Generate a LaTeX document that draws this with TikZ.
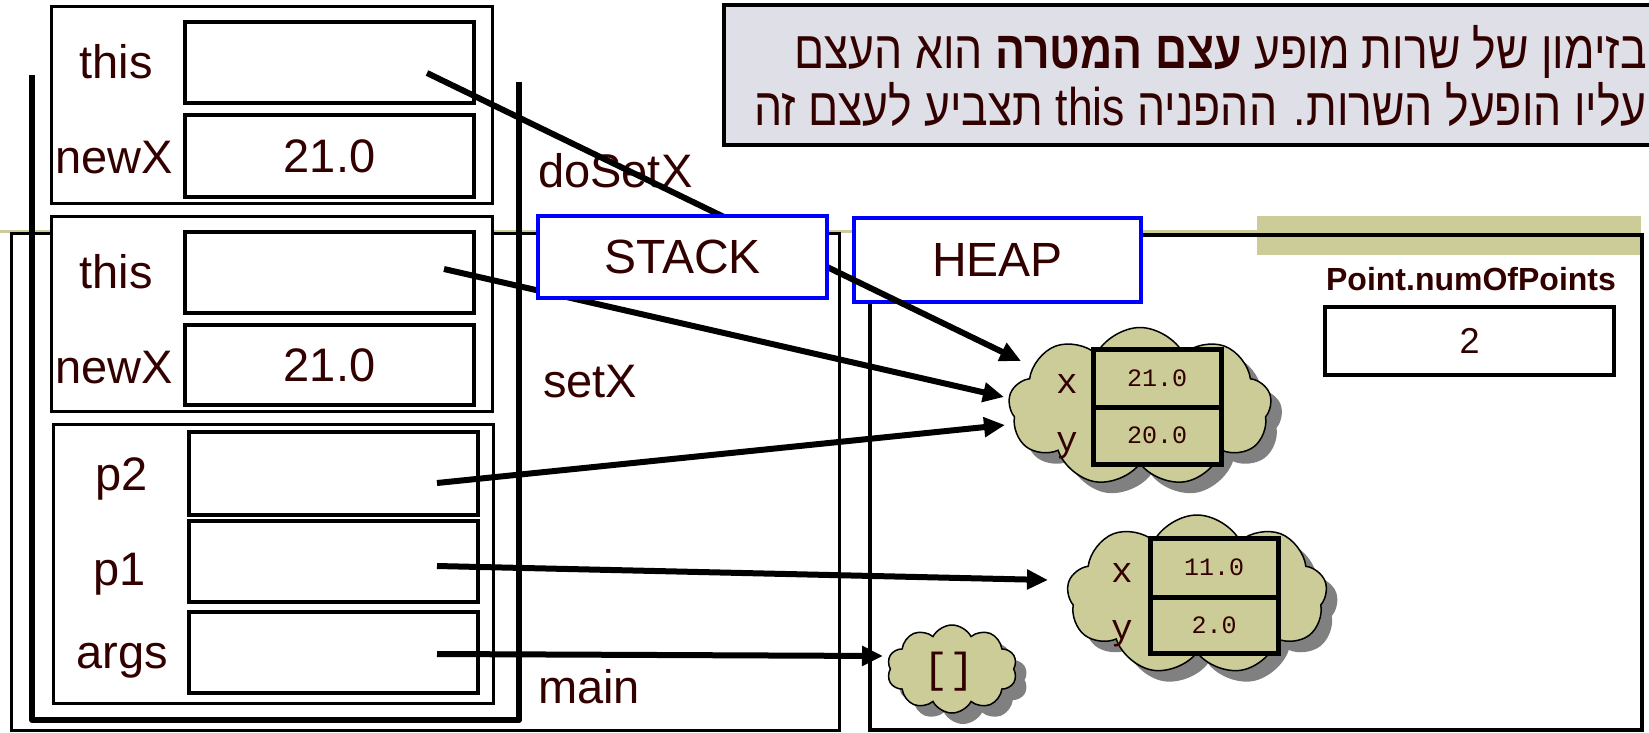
\documentclass[tikz,border=0pt]{standalone}
\usepackage{fontspec}
\setmainfont{Liberation Sans}
\newfontfamily\hebfont[Script=Hebrew,FakeStretch=0.84]{Liberation Sans}
\newfontfamily\cour{Liberation Mono}
\TeXXeTstate=1
\usetikzlibrary{shapes.symbols,shadows,arrows.meta}
\definecolor{txt}{RGB}{51,0,0}
\definecolor{khaki}{RGB}{204,204,153}
\definecolor{lav}{RGB}{223,223,232}
\definecolor{shad}{RGB}{128,128,128}
\definecolor{pureblue}{RGB}{0,0,255}
\begin{document}
\begin{tikzpicture}[x=1pt,y=-1pt,
  lab/.style={font=\fontsize{47}{56}\selectfont, text=txt, inner sep=0pt},
  frm/.style={draw=black, line width=3pt, fill=white},
  cell/.style={draw=black, line width=4pt, fill=white, minimum width=289pt, inner sep=0pt, text=txt, font=\fontsize{47}{56}\selectfont},
  hcell/.style={draw=black, line width=5pt, fill=khaki, minimum width=128pt, inner sep=0pt, text=txt, font=\cour\fontsize{25}{30}\selectfont},
  mlab/.style={font=\cour\fontsize{36}{40}\selectfont, text=txt, inner sep=0pt},
  arr/.style={line width=6pt, -{Triangle[length=21pt,width=19pt]}},
  bluebox/.style={draw=pureblue, line width=4pt, fill=white, text=txt, font=\fontsize{48}{56}\selectfont, inner sep=0pt},
  puff/.style={cloud, cloud puffs=9, cloud puff arc=125, draw=black, line width=1.5pt, fill=khaki, inner sep=0pt,
    drop shadow={shadow xshift=11pt, shadow yshift=-11pt, fill=shad, opacity=1}},
  heb/.style={font=\hebfont\fontsize{53}{60}\selectfont, text=txt, inner sep=0pt}
]
\useasboundingbox (0,0) rectangle (1649,732);
\clip (0,0) rectangle (1649,732);
\fill[white] (0,0) rectangle (1649,732);

% slide template decoration
\draw[khaki, line width=3pt] (0,231) -- (1257,231);
\fill[khaki] (1257,216) rectangle (1641,255);

% region frames
\draw[black, line width=3pt] (11,233) rectangle (839,730);
\draw[black, line width=4pt] (870,235) rectangle (1642,730);

% stack container
\draw[black, line width=6pt, line join=round] (32,75) -- (32,720) -- (519,720) -- (519,82);

% doSetX frame
\draw[frm] (51,6) rectangle (492,203);
\node[cell, minimum height=81pt] (this1) at (329.5,62.5) {};
\node[cell, minimum height=82pt] (newx1) at (329.5,156) {21.0};
\node[lab, anchor=base] (lthis1) at (116,78) {this};
\node[lab, anchor=base] (lnewx1) at (114,173) {newX};

% setX frame
\draw[frm] (51,216) rectangle (492,411);
\node[cell, minimum height=81pt] (this2) at (329.5,272.5) {};
\node[cell, minimum height=80pt] (newx2) at (329.5,365) {21.0};
\node[lab, anchor=base] (lthis2) at (116,288) {this};
\node[lab, anchor=base] (lnewx2) at (114,383) {newX};

% main frame
\draw[frm] (53,424) rectangle (493,703);
\node[cell, minimum height=83pt] (p2) at (333.5,473.5) {};
\node[cell, minimum height=81pt] (p1) at (333.5,561.5) {};
\node[cell, minimum height=81pt] (args) at (333.5,652.5) {};
\node[lab, anchor=base] (lp2) at (122,490) {p2};
\node[lab, anchor=base] (lp1) at (120,585) {p1};
\node[lab, anchor=base] (largs) at (122,668) {args};

% method labels
\node[lab, anchor=base west] (ldosetx) at (538,187) {doSetX};
\node[lab, anchor=base west] (lsetx) at (543,397) {setX};
\node[lab, anchor=base west] (lmain) at (538,703) {main};

% HEAP label box
\node[bluebox, minimum width=287pt, minimum height=84pt] (heap) at (997.5,260) {HEAP};

% heap objects
\node[puff, minimum width=263pt, minimum height=159pt] (cl1) at (1140,407) {};
\node[hcell, minimum height=58pt] (x1) at (1157,378) {21.0};
\node[hcell, minimum height=57pt] (y1) at (1157,435.5) {20.0};
\node[mlab, anchor=base] (lx1) at (1067,393) {x};
\node[mlab, anchor=base] (ly1) at (1067,451) {y};

\node[puff, minimum width=260pt, minimum height=160pt] (cl2) at (1197,595) {};
\node[hcell, minimum height=59pt] (x2) at (1214,567.5) {11.0};
\node[hcell, minimum height=56pt] (y2) at (1214,625) {2.0};
\node[mlab, anchor=base] (lx2) at (1122,582) {x};
\node[mlab, anchor=base] (ly2) at (1122,639) {y};

\node[puff, cloud puffs=10, minimum width=130pt, minimum height=88pt] (cl3) at (952,669) {};
\node[font=\cour\fontsize{42}{46}\selectfont, text=txt, inner sep=0pt] (arr0) at (949,672) {[]};

% static field
\node[font=\bfseries\fontsize{32}{38}\selectfont, text=txt, inner sep=0pt, anchor=base] (pnum) at (1471,290) {Point.numOfPoints};
\node[draw=black, line width=4pt, fill=white, minimum width=289pt, minimum height=68pt, inner sep=0pt, text=txt, font=\fontsize{36}{42}\selectfont] (pval) at (1469.5,341) {2};

% references
\coordinate (s1) at (427,73);
\coordinate (s2) at (444,269);
\coordinate (s3) at (437,483);
\coordinate (s4) at (437,566);
\coordinate (s5) at (437,654);
\coordinate (t1) at (1021,361);
\coordinate (t2) at (1004,397);
\coordinate (t3) at (1005,425);
\coordinate (t4) at (1048,580);
\coordinate (t5) at (883,656);
\draw[arr] (s1) -- (t1);
\draw[arr] (s2) -- (t2);
\draw[arr] (s3) -- (t3);
\draw[arr] (s4) -- (t4);
\draw[arr] (s5) -- (t5);

% STACK label box (over the references)
\node[bluebox, minimum width=289pt, minimum height=82pt] (stack) at (682.5,257) {STACK};

% explanation box
\draw[black, line width=4pt, fill=lav] (724,5) rectangle (1720,145);
\node[heb, anchor=base east] (h1) at (1647,68) {\beginR בזימון של שרות מופע {\bfseries עצם המטרה} הוא העצם\endR};
\node[heb, anchor=base east] (h2) at (1647,125) {\beginR עליו הופעל השרות. ההפניה \beginL this\endL{} תצביע לעצם זה\endR};
\end{tikzpicture}
\end{document}
